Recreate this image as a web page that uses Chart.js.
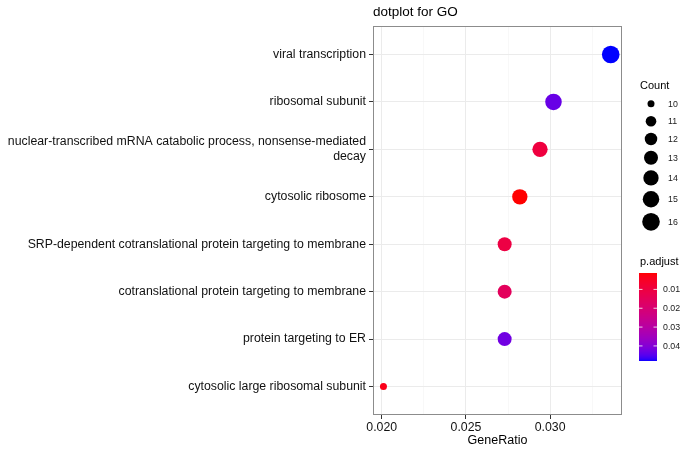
<!DOCTYPE html>
<html>
<head>
<meta charset="utf-8">
<script src="https://cdn.jsdelivr.net/npm/chart.js@4"></script>
<style>
  html, body { margin: 0; padding: 0; background: #fff; }
  #wrap { width: 684px; height: 450px; }
</style>
</head>
<body>
<div id="wrap"><canvas id="dot-chart" width="684" height="450"></canvas></div>
<script>
// GO terms, top to bottom
let terms = [
  'viral transcription',
  'ribosomal subunit',
  'nuclear-transcribed mRNA catabolic process, nonsense-mediated decay',
  'cytosolic ribosome',
  'SRP-dependent cotranslational protein targeting to membrane',
  'cotranslational protein targeting to membrane',
  'protein targeting to ER',
  'cytosolic large ribosomal subunit'
];
let gene_ratio = [0.0336, 0.0302, 0.0294, 0.0282, 0.0273, 0.0273, 0.0273, 0.0201];
let counts = [16, 15, 14, 14, 13, 13, 13, 10];
let p_adjust = [0.048, 0.0433, 0.0098, 0.0013, 0.0106, 0.0153, 0.0424, 0.0036];

// legend / axis ticks
let count_breaks = [10, 11, 12, 13, 14, 15, 16];
let p_breaks = [0.01, 0.02, 0.03, 0.04];
let x_major = [0.020, 0.025, 0.030];
let x_range = [0.01948, 0.03427];

const FONT = "'Liberation Sans', Arial, Helvetica, sans-serif";

let cMin = Math.min(...counts), cMax = Math.max(...counts);
let pMin = Math.min(...p_adjust), pMax = Math.max(...p_adjust);

// point radius for a count
function sizeFor(c) {
  let t = (c - cMin) / (cMax - cMin);
  return 3.5 + 5.3 * Math.pow(t, 0.6);
}

// red -> blue in Lab space, like ggplot
function toLin(c) { c /= 255; return c <= 0.04045 ? c / 12.92 : Math.pow((c + 0.055) / 1.055, 2.4); }
function fromLin(c) {
  c = c <= 0.0031308 ? 12.92 * c : 1.055 * Math.pow(c, 1 / 2.4) - 0.055;
  return Math.round(Math.max(0, Math.min(1, c)) * 255);
}
function toLab(rgb) {
  let r = toLin(rgb[0]), g = toLin(rgb[1]), b = toLin(rgb[2]);
  let X = (0.4124 * r + 0.3576 * g + 0.1805 * b) / 0.95047;
  let Y = 0.2126 * r + 0.7152 * g + 0.0722 * b;
  let Z = (0.0193 * r + 0.1192 * g + 0.9505 * b) / 1.08883;
  let f = t => t > 0.008856 ? Math.cbrt(t) : 7.787 * t + 16 / 116;
  return [116 * f(Y) - 16, 500 * (f(X) - f(Y)), 200 * (f(Y) - f(Z))];
}
function fromLab(lab) {
  let fy = (lab[0] + 16) / 116, fx = fy + lab[1] / 500, fz = fy - lab[2] / 200;
  let inv = t => t * t * t > 0.008856 ? t * t * t : (t - 16 / 116) / 7.787;
  let X = 0.95047 * inv(fx), Y = inv(fy), Z = 1.08883 * inv(fz);
  let r = 3.2406 * X - 1.5372 * Y - 0.4986 * Z;
  let g = -0.9689 * X + 1.8758 * Y + 0.0415 * Z;
  let b = 0.0557 * X - 0.2040 * Y + 1.0570 * Z;
  return 'rgb(' + fromLin(r) + ',' + fromLin(g) + ',' + fromLin(b) + ')';
}
let labLow = toLab([255, 0, 0]), labHigh = toLab([0, 0, 255]);
function colorFor(p) {
  let t = (p - pMin) / (pMax - pMin);
  return fromLab(labLow.map((v, i) => v + (labHigh[i] - v) * t));
}

function wrapLabel(s, width) {
  if (s.length <= width) return s;
  let cut = s.lastIndexOf(' ', width);
  return [s.slice(0, cut), s.slice(cut + 1)];
}

let points = gene_ratio.map((g, i) => ({ x: g, y: i }));

// title + panel border + legends
const extras = {
  id: 'extras',
  afterDraw(chart) {
    const ctx = chart.ctx;
    const a = chart.chartArea;
    ctx.save();
    ctx.strokeStyle = '#8c8c8c';
    ctx.lineWidth = 1;
    ctx.strokeRect(a.left + 0.5, a.top + 0.5, a.right - a.left - 1, a.bottom - a.top - 1);

    ctx.fillStyle = '#000';
    ctx.font = '13.5px ' + FONT;
    ctx.textBaseline = 'middle';
    ctx.textAlign = 'left';
    ctx.fillText('dotplot for GO', a.left, 12);

    // Count legend
    let lx = 640;
    ctx.font = '11px ' + FONT;
    ctx.fillText('Count', lx, 86);
    let y = 95;
    ctx.font = '8.8px ' + FONT;
    count_breaks.forEach(c => {
      let r = sizeFor(c);
      let h = Math.max(17.5, 2 * r + 5.5);
      let cy = y + h / 2;
      ctx.fillStyle = '#000';
      ctx.beginPath();
      ctx.arc(651, cy, r, 0, Math.PI * 2);
      ctx.fill();
      ctx.fillStyle = '#1a1a1a';
      ctx.fillText(String(c), 668, cy + 0.5);
      y += h;
    });

    // p.adjust colour bar
    ctx.fillStyle = '#000';
    ctx.font = '11px ' + FONT;
    ctx.fillText('p.adjust', lx, 262);
    let bx = 639, bw = 18, by = 273, bh = 88;
    for (let i = 0; i < bh; i++) {
      ctx.fillStyle = colorFor(pMin + (pMax - pMin) * (i + 0.5) / bh);
      ctx.fillRect(bx, by + i, bw, 1);
    }
    ctx.font = '8.8px ' + FONT;
    p_breaks.forEach(p => {
      let ty = by + (p - pMin) / (pMax - pMin) * bh;
      ctx.strokeStyle = 'rgba(255,255,255,0.8)';
      ctx.beginPath();
      ctx.moveTo(bx, ty); ctx.lineTo(bx + 3.5, ty);
      ctx.moveTo(bx + bw - 3.5, ty); ctx.lineTo(bx + bw, ty);
      ctx.stroke();
      ctx.fillStyle = '#1a1a1a';
      ctx.fillText(p.toFixed(2), 663, ty + 0.5);
    });
    ctx.restore();
  }
};

let myChart = new Chart(document.getElementById('dot-chart').getContext('2d'), {
  type: 'scatter',
  data: {
    datasets: [{
      data: points,
      pointRadius: counts.map(sizeFor),
      pointHoverRadius: counts.map(sizeFor),
      backgroundColor: p_adjust.map(colorFor),
      borderWidth: 0
    }]
  },
  options: {
    responsive: false,
    animation: false,
    layout: { padding: { left: 0, right: 62, top: 26, bottom: 0 } },
    plugins: { legend: { display: false }, tooltip: { enabled: false } },
    scales: {
      x: {
        type: 'linear',
        min: x_range[0],
        max: x_range[1],
        afterBuildTicks: function(scale) {
          let t = [];
          for (let v = x_major[0]; v < x_range[1]; v += 0.0025) t.push({ value: +v.toFixed(4) });
          scale.ticks = t;
        },
        afterFit: function(scale) { scale.height = 35; },
        border: { display: false },
        grid: {
          color: ctx => isMajor(ctx.tick) ? '#ebebeb' : '#f5f5f5',
          lineWidth: ctx => isMajor(ctx.tick) ? 1 : 0.7,
          tickColor: ctx => isMajor(ctx.tick) ? '#333333' : 'rgba(0,0,0,0)',
          tickLength: 4
        },
        ticks: {
          autoSkip: false,
          maxRotation: 0,
          padding: 1,
          color: '#111',
          font: { family: FONT, size: 12.3 },
          callback: function(v) { return isMajor({ value: v }) ? v.toFixed(3) : ''; }
        },
        title: {
          display: true,
          text: 'GeneRatio',
          color: '#000',
          font: { family: FONT, size: 12.5 },
          padding: { top: 0, bottom: 2 }
        }
      },
      y: {
        type: 'linear',
        reverse: true,
        min: -0.6,
        max: terms.length - 0.4,
        afterBuildTicks: function(scale) {
          scale.ticks = terms.map((t, i) => ({ value: i }));
        },
        afterFit: function(scale) { scale.width = 373; },
        border: { display: false },
        grid: { color: '#ebebeb', lineWidth: 1, tickColor: '#333333', tickLength: 4 },
        ticks: {
          autoSkip: false,
          padding: 3,
          color: '#111',
          font: { family: FONT, size: 12.3 },
          callback: function(v) { return wrapLabel(terms[v], 62); }
        }
      }
    }
  },
  plugins: [extras]
});

function isMajor(tick) {
  return tick && x_major.some(m => Math.abs(m - tick.value) < 1e-6);
}
</script>
</body>
</html>
